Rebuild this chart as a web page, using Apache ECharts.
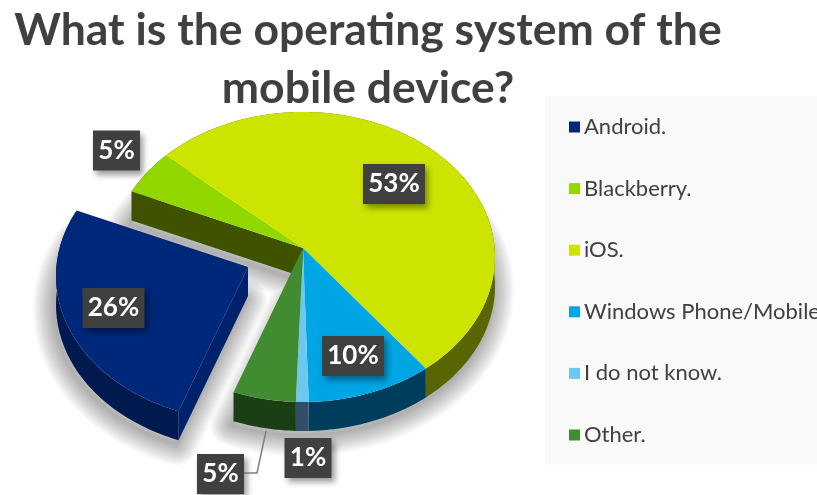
<!DOCTYPE html>
<html><head><meta charset="utf-8">
<style>html,body{margin:0;padding:0;background:#fff}#c{width:817px;height:495px}</style>
<script src="https://cdn.jsdelivr.net/npm/echarts@6/dist/echarts.min.js"></script>
</head><body><div id="c"></div>
<script>
var categories = ['Android.', 'Blackberry.', 'iOS.', 'Windows Phone/Mobile', 'I do not know.', 'Other.'];
var shares = [26, 5, 53, 10, 1, 5];
var topColors = ['#00287a', '#92d800', '#cce400', '#00a5e3', '#6cc8ee', '#418c30'];
var rimColors = ['#001a50', '#3f5200', '#5a6400', '#003c5c', '#315068', '#1a3f15'];
var cutColors = ['#00226a', '#3f5200', '#5a6400', '#003c5c', '#315068', '#1a3f15'];
var exploded = [true, false, false, false, false, false];
var labelCentres = [[113.5, 308], [116.5, 150.5], [394, 184], [353, 356], [308, 458], [220.5, 474]];

var apex = [303, 248], ctr = [303, 257], rx = 192, ry = 145, depth = 29;
var explodeShift = [-55, 19], startDeg = 200;

function rimPoint(deg, dx, dy) {
  var a = deg * Math.PI / 180, ux = Math.sin(a), uy = -Math.cos(a);
  var cx = (ctr[0] - apex[0]) / rx, cy = (ctr[1] - apex[1]) / ry;
  var b = ux * cx + uy * cy;
  var t = b + Math.sqrt(b * b - cx * cx - cy * cy + 1);
  return [apex[0] + t * ux * rx + dx, apex[1] + t * uy * ry + dy];
}
function sinDeg(d) { return Math.sin(d * Math.PI / 180); }
var total = shares.reduce(function (s, v) { return s + v; }, 0);
var starts = [], acc = startDeg;
shares.forEach(function (v) { starts.push(acc); acc += v / total * 360; });

function arc(a0, a1, dx, dy) {
  var pts = [];
  for (var a = a0; ; a += 1) {
    pts.push(rimPoint(Math.min(a, a1), dx, dy));
    if (a >= a1) break;
  }
  return pts;
}
function softShadow(points, out) {
  var moved = points.map(function (p) { return [p[0] - 2, p[1] + 4]; });
  for (var k = 1; k <= 12; k++) {
    out.push({ type: 'polygon', z2: 0, silent: true, shape: { points: moved },
      style: { fill: 'none', stroke: 'rgba(0,0,0,0.026)', lineWidth: 3.5 * k, lineJoin: 'round' } });
  }
}

function makeRender(i) {
  return function (params, api) {
    var v = api.value(0), n = shares.length;
    var a0 = starts[i], a1 = a0 + v / total * 360;
    var dx = exploded[i] ? explodeShift[0] : 0, dy = exploded[i] ? explodeShift[1] : 0;
    var rim = arc(a0, a1, dx, dy), rimLow = arc(a0, a1, dx, dy + depth);
    var ap = [apex[0] + dx, apex[1] + dy], apLow = [ap[0], ap[1] + depth];
    var topPts = [ap].concat(rim);
    var rimWall = rim.concat(rimLow.slice().reverse());
    var first = rim[0], last = rim[rim.length - 1];
    var lowFirst = rimLow[0], lowLast = rimLow[rimLow.length - 1];
    var c = labelCentres[i], text = v + '%';
    var boxW = text.length === 2 ? 47 : 62, boxH = 40;
    var kids = [
      { type: 'polygon', z2: 2, shape: { points: rimWall }, style: { fill: rimColors[i] } },
      { type: 'polygon', z2: 3, shape: { points: topPts }, style: { fill: topColors[i] } },
      { type: 'rect', z2: 6, shape: { x: c[0] - boxW / 2, y: c[1] - boxH / 2, width: boxW, height: boxH },
        style: { fill: '#404040', shadowBlur: 6, shadowColor: 'rgba(0,0,0,0.4)', shadowOffsetX: 3, shadowOffsetY: 4 } },
      { type: 'text', z2: 7, style: { x: c[0], y: c[1], text: text, fill: '#fff', align: 'center', verticalAlign: 'middle',
        font: 'bold 26px Lato' } }
    ];
    var openStart = exploded[i] || exploded[(i + n - 1) % n];
    var openEnd = exploded[i] || exploded[(i + 1) % n];
    if (openStart && sinDeg(a0) < 0) {
      kids.push({ type: 'polygon', z2: 1, shape: { points: [ap, first, lowFirst, apLow] }, style: { fill: cutColors[i] } });
    }
    if (openEnd && sinDeg(a1) > 0) {
      kids.push({ type: 'polygon', z2: 1, shape: { points: [ap, last, lowLast, apLow] }, style: { fill: cutColors[i] } });
    }
    if (exploded[i]) {
      softShadow([apLow].concat(rimLow), kids);
    } else if (i === exploded.indexOf(false)) {
      var sum = 0;
      for (var j = i; j < n && !exploded[j]; j++) { sum += shares[j]; }
      softShadow([[apex[0], apex[1] + depth]].concat(arc(starts[i], starts[i] + sum / total * 360, 0, depth)), kids);
    }
    return { type: 'group', children: kids };
  };
}

var series = categories.map(function (name, i) {
  return { type: 'custom', name: name, coordinateSystem: 'none', animation: false,
    itemStyle: { color: topColors[i] }, data: [[shares[i]]], renderItem: makeRender(i) };
});

var chart = echarts.init(document.getElementById('c'), null, { renderer: 'canvas' });
chart.setOption({
  animation: false,
  backgroundColor: '#fff',
  title: { text: 'What is the operating system of the\nmobile device?', left: 363, top: -3, textAlign: 'center',
    textStyle: { fontFamily: 'Lato', fontWeight: 'bold', fontSize: 44.5, lineHeight: 58, color: '#404040' } },
  legend: { orient: 'vertical', left: 564, top: 111, icon: 'rect', itemWidth: 11, itemHeight: 11, itemGap: 39.6,
    selectedMode: false, data: categories,
    textStyle: { fontFamily: 'Lato', fontSize: 22, lineHeight: 22, color: '#404040', padding: [0, 0, 0, -1] } },
  graphic: [{ type: 'rect', z: -10, silent: true, shape: { x: 545, y: 96, width: 272, height: 369 }, style: { fill: '#f9f9f9' } },
    { type: 'polyline', z: 4, silent: true, shape: { points: [[266, 431], [257, 473], [244, 473]] },
      style: { stroke: '#7f7f7f', lineWidth: 1.5, fill: 'none' } }],
  series: series
});
</script></body></html>
